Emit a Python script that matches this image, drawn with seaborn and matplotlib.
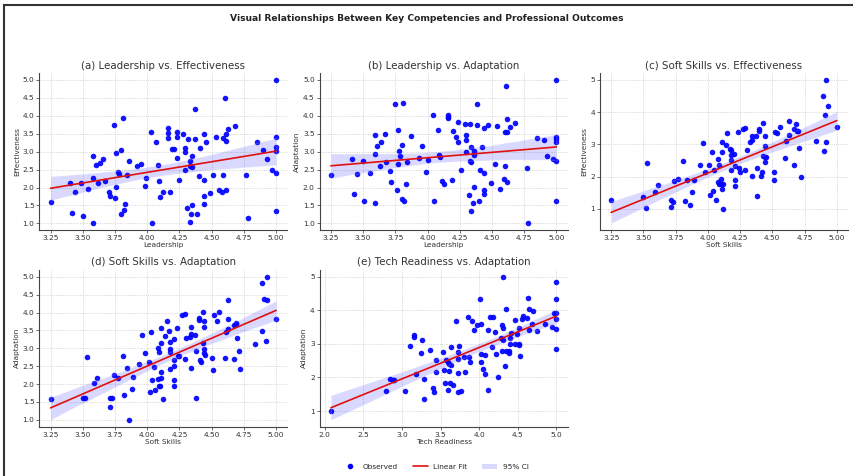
import numpy as np
import pandas as pd
import matplotlib
matplotlib.use("Agg")
import matplotlib.pyplot as plt
from matplotlib.lines import Line2D
from matplotlib.patches import Patch, Rectangle
import seaborn as sns

# ---------------- data ----------------
lead_a = [3.25, 3.40, 3.42, 3.44, 3.49, 3.50, 3.54, 3.58, 3.58, 3.58, 3.60, 3.62, 3.63, 3.66, 3.67,
          3.70, 3.71, 3.74, 3.75, 3.76, 3.76, 3.77, 3.78, 3.80, 3.80, 3.81, 3.82, 3.83, 3.84, 3.86,
          3.92, 3.95, 3.98, 3.99, 4.03, 4.04, 4.07, 4.08, 4.09, 4.10, 4.12, 4.16, 4.16, 4.16, 4.18,
          4.19, 4.21, 4.23, 4.23, 4.23, 4.25, 4.28, 4.29, 4.29, 4.29, 4.31, 4.32, 4.33, 4.33, 4.33,
          4.34, 4.35, 4.35, 4.35, 4.37, 4.37, 4.39, 4.40, 4.41, 4.44, 4.44, 4.44, 4.44, 4.46, 4.49,
          4.51, 4.53, 4.56, 4.58, 4.59, 4.59, 4.60, 4.61, 4.61, 4.61, 4.63, 4.68, 4.77, 4.78, 4.85,
          4.90, 4.93, 4.97, 5.00, 5.00, 5.00, 5.00, 5.00, 5.00]
eff_a = [1.59, 2.12, 1.30, 1.89, 2.12, 1.22, 1.97, 2.87, 2.27, 1.01, 2.62, 2.12, 2.69, 2.79, 2.19,
         1.89, 1.77, 3.75, 1.70, 2.96, 2.02, 2.44, 2.37, 3.06, 1.25, 3.93, 1.38, 1.55, 2.35, 2.75,
         2.59, 2.66, 2.03, 2.26, 3.56, 1.02, 3.28, 2.63, 2.17, 1.74, 1.88, 3.67, 3.51, 3.38, 1.88,
         3.07, 3.07, 3.54, 3.42, 2.82, 2.21, 3.48, 3.09, 2.99, 2.50, 1.42, 3.36, 1.04, 2.74, 2.59,
         1.26, 2.89, 1.51, 2.56, 4.20, 3.36, 1.27, 2.31, 3.09, 3.49, 2.20, 1.77, 1.53, 3.26, 1.84,
         2.35, 3.40, 1.93, 1.88, 3.37, 2.36, 4.50, 1.93, 3.48, 3.29, 3.62, 3.72, 2.36, 1.14, 3.26,
         3.05, 2.81, 2.48, 5.00, 3.42, 3.12, 3.03, 2.42, 1.35]

lead_b = [3.25, 3.41, 3.43, 3.45, 3.50, 3.51, 3.55, 3.59, 3.59, 3.59, 3.61, 3.63, 3.64, 3.67, 3.68,
          3.71, 3.72, 3.75, 3.76, 3.77, 3.77, 3.78, 3.79, 3.80, 3.80, 3.81, 3.82, 3.83, 3.84, 3.87,
          3.93, 3.96, 3.99, 4.00, 4.04, 4.05, 4.08, 4.09, 4.10, 4.11, 4.13, 4.16, 4.16, 4.16, 4.19,
          4.20, 4.22, 4.24, 4.24, 4.26, 4.29, 4.30, 4.30, 4.30, 4.32, 4.33, 4.33, 4.34, 4.34, 4.34,
          4.35, 4.36, 4.36, 4.36, 4.38, 4.38, 4.40, 4.41, 4.42, 4.44, 4.44, 4.44, 4.44, 4.47, 4.49,
          4.52, 4.54, 4.56, 4.59, 4.60, 4.60, 4.61, 4.62, 4.62, 4.62, 4.64, 4.68, 4.77, 4.78, 4.85,
          4.90, 4.93, 4.97, 5.00, 5.00, 5.00, 5.00, 5.00, 5.00]
adapt_b = [2.35, 2.79, 1.83, 2.37, 2.74, 1.62, 2.42, 3.46, 2.93, 1.58, 3.17, 2.61, 3.27, 3.49, 2.70,
           2.45, 2.16, 4.33, 1.93, 3.60, 2.65, 3.01, 2.89, 3.20, 1.67, 4.37, 1.62, 2.10, 2.72, 3.44,
           2.82, 3.17, 2.44, 2.78, 4.02, 1.62, 3.61, 2.92, 2.86, 2.17, 2.10, 4.02, 3.96, 3.93, 2.20,
           3.58, 3.40, 3.82, 3.27, 2.50, 3.77, 3.46, 3.34, 3.00, 1.79, 3.77, 2.75, 3.14, 1.36, 2.72,
           1.58, 3.02, 2.91, 2.02, 4.34, 3.75, 1.62, 2.50, 3.13, 3.67, 2.42, 1.94, 1.83, 3.75, 2.13,
           2.67, 3.72, 1.96, 2.24, 2.61, 3.54, 4.82, 3.54, 3.92, 2.16, 3.68, 3.80, 2.55, 1.01, 3.38,
           3.32, 2.89, 2.79, 5.00, 3.42, 3.35, 3.28, 2.75, 1.62]

soft_c = [3.25, 3.50, 3.52, 3.53, 3.59, 3.61, 3.71, 3.71, 3.73, 3.74, 3.77, 3.81, 3.82, 3.84, 3.86,
          3.88, 3.89, 3.94, 3.96, 3.98, 4.01, 4.02, 4.03, 4.04, 4.05, 4.06, 4.08, 4.08, 4.09, 4.09,
          4.10, 4.10, 4.11, 4.11, 4.11, 4.12, 4.12, 4.14, 4.15, 4.17, 4.18, 4.18, 4.18, 4.18, 4.20,
          4.21, 4.21, 4.21, 4.23, 4.24, 4.25, 4.27, 4.29, 4.29, 4.30, 4.33, 4.34, 4.34, 4.34, 4.37,
          4.38, 4.38, 4.40, 4.40, 4.41, 4.42, 4.43, 4.43, 4.44, 4.44, 4.44, 4.44, 4.45, 4.51, 4.51,
          4.52, 4.54, 4.56, 4.60, 4.61, 4.63, 4.63, 4.67, 4.67, 4.68, 4.69, 4.70, 4.71, 4.72, 4.84,
          4.89, 4.90, 4.91, 4.92, 4.92, 4.93, 5.00]
eff_c = [1.26, 1.36, 1.02, 2.42, 1.51, 1.74, 1.05, 1.27, 1.22, 1.87, 1.93, 2.47, 1.25, 1.89, 1.13,
         1.53, 1.89, 2.36, 3.03, 2.15, 2.36, 1.42, 2.75, 1.54, 2.21, 1.28, 2.56, 1.84, 2.37, 1.78,
         1.91, 1.78, 3.08, 2.75, 1.60, 1.00, 1.76, 2.98, 3.36, 2.86, 2.82, 2.66, 2.50, 2.20, 2.70,
         2.34, 1.89, 1.70, 3.38, 2.26, 2.13, 3.49, 3.52, 2.19, 2.83, 3.08, 3.25, 2.02, 3.14, 3.26,
         2.27, 1.39, 3.47, 3.42, 2.02, 2.13, 3.67, 2.64, 2.95, 3.25, 2.62, 2.46, 2.60, 2.13, 1.90,
         3.39, 3.35, 3.55, 2.57, 3.11, 3.73, 3.30, 3.47, 2.36, 3.62, 3.43, 3.42, 2.90, 1.98, 3.09,
         4.50, 2.80, 3.92, 3.06, 5.00, 4.20, 3.54]

soft_d = [3.25, 3.50, 3.52, 3.53, 3.59, 3.61, 3.71, 3.71, 3.73, 3.74, 3.77, 3.81, 3.82, 3.84, 3.86,
          3.88, 3.89, 3.94, 3.96, 3.98, 4.01, 4.02, 4.03, 4.04, 4.05, 4.06, 4.08, 4.08, 4.09, 4.09,
          4.10, 4.11, 4.11, 4.11, 4.11, 4.12, 4.14, 4.15, 4.17, 4.18, 4.18, 4.18, 4.18, 4.21, 4.21,
          4.21, 4.21, 4.21, 4.23, 4.24, 4.25, 4.27, 4.29, 4.29, 4.30, 4.33, 4.34, 4.34, 4.34, 4.37,
          4.38, 4.38, 4.40, 4.40, 4.41, 4.42, 4.43, 4.43, 4.44, 4.44, 4.44, 4.44, 4.45, 4.50, 4.51,
          4.52, 4.54, 4.56, 4.60, 4.61, 4.63, 4.63, 4.63, 4.67, 4.67, 4.69, 4.70, 4.69, 4.71, 4.72,
          4.84, 4.89, 4.89, 4.91, 4.92, 4.93, 4.93, 5.00]
adapt_d = [1.58, 1.62, 1.62, 2.75, 2.02, 2.17, 1.36, 1.62, 1.62, 2.24, 2.16, 2.79, 1.68, 2.44, 1.00,
           1.85, 2.20, 2.55, 3.37, 2.86, 2.61, 1.79, 3.45, 2.11, 2.49, 1.83, 3.02, 2.14, 2.89, 1.95,
           1.95, 2.16, 3.57, 3.15, 2.35, 1.58, 3.34, 3.76, 3.47, 2.99, 2.89, 2.43, 3.17, 3.27, 2.68,
           2.50, 2.11, 1.94, 3.56, 2.79, 2.79, 3.92, 3.97, 2.71, 3.28, 3.31, 3.40, 2.45, 3.60, 3.37,
           2.92, 1.61, 3.84, 3.78, 2.67, 2.61, 4.02, 3.15, 3.76, 3.60, 2.99, 2.88, 2.82, 2.73, 2.38,
           3.93, 3.76, 4.02, 2.74, 3.45, 4.34, 3.81, 3.55, 3.65, 2.71, 3.69, 3.28, 3.72, 2.92, 2.42,
           3.13, 4.83, 3.49, 4.38, 3.20, 5.00, 4.34, 3.81]

tech_e = [2.08, 2.79, 2.84, 2.88, 2.90, 3.04, 3.10, 3.15, 3.15, 3.18, 3.25, 3.26, 3.28, 3.29, 3.36,
          3.40, 3.42, 3.44, 3.44, 3.53, 3.55, 3.56, 3.57, 3.59, 3.59, 3.61, 3.61, 3.62, 3.63, 3.64,
          3.66, 3.70, 3.72, 3.72, 3.72, 3.72, 3.74, 3.76, 3.80, 3.81, 3.85, 3.87, 3.88, 3.91, 3.93,
          3.97, 4.01, 4.03, 4.03, 4.03, 4.05, 4.07, 4.08, 4.11, 4.12, 4.14, 4.18, 4.17, 4.21, 4.22,
          4.24, 4.28, 4.29, 4.30, 4.31, 4.31, 4.31, 4.34, 4.35, 4.35, 4.38, 4.39, 4.40, 4.40, 4.41,
          4.46, 4.47, 4.49, 4.51, 4.51, 4.51, 4.53, 4.55, 4.57, 4.62, 4.63, 4.65, 4.65, 4.68, 4.70,
          4.75, 4.85, 4.94, 4.97, 5.00, 5.00, 5.00, 5.00, 5.00, 5.00]
adapt_e = [1.00, 1.61, 1.96, 1.93, 1.93, 1.61, 2.93, 3.27, 3.20, 2.11, 2.73, 3.13, 1.96, 1.35, 2.82,
           1.68, 1.58, 2.51, 2.17, 2.75, 2.21, 1.84, 2.51, 2.45, 1.62, 2.41, 2.18, 1.84, 2.38, 2.90,
           1.78, 3.68, 2.75, 2.54, 2.14, 1.58, 2.93, 1.61, 2.60, 2.17, 3.81, 2.60, 2.45, 3.67, 3.40,
           3.56, 4.35, 3.59, 2.71, 2.45, 2.25, 2.68, 2.11, 1.62, 3.41, 3.81, 3.79, 2.90, 3.34, 2.71,
           2.01, 3.17, 3.55, 2.78, 5.00, 3.46, 3.13, 2.35, 4.03, 2.78, 2.78, 2.74, 3.01, 3.19, 3.32,
           3.72, 3.01, 3.28, 2.96, 3.46, 3.01, 2.64, 3.75, 3.84, 3.76, 4.38, 3.41, 4.03, 3.59, 3.99,
           3.39, 3.60, 3.50, 3.92, 4.84, 4.35, 3.92, 3.75, 3.44, 2.86]

panels = [
    ("(a) Leadership vs. Effectiveness", "Leadership", "Effectiveness", lead_a, eff_a),
    ("(b) Leadership vs. Adaptation", "Leadership", "Adaptation", lead_b, adapt_b),
    ("(c) Soft Skills vs. Effectiveness", "Soft Skills", "Effectiveness", soft_c, eff_c),
    ("(d) Soft Skills vs. Adaptation", "Soft Skills", "Adaptation", soft_d, adapt_d),
    ("(e) Tech Readiness vs. Adaptation", "Tech Readiness", "Adaptation", tech_e, adapt_e),
]

# ---------------- style ----------------
sns.set_theme(style="white")
plt.rcParams['font.family'] = ['DejaVu Sans']

fig, axes = plt.subplots(2, 3, figsize=(8.54, 4.76), dpi=100)
fig.subplots_adjust(left=0.046, right=0.993, top=0.847, bottom=0.103,
                    wspace=0.13, hspace=0.25)
axes = axes.ravel()

for ax, (title, xl, yl, xs, ys) in zip(axes, panels):
    df = pd.DataFrame({xl: xs, yl: ys})
    sns.regplot(data=df, x=xl, y=yl, ax=ax, color="blue", ci=95, seed=0,
                scatter_kws=dict(s=16, linewidths=0, alpha=0.92),
                line_kws=dict(linewidth=1.2))
    ax.lines[-1].set_color("#e01010")
    ax.set_title(title, fontsize=7.4, pad=3, color="#333333")
    ax.set_xlabel(xl, fontsize=5.3, labelpad=1, color="#333333")
    ax.set_ylabel(yl, fontsize=5.3, labelpad=2, color="#333333")
    ax.tick_params(labelsize=5.3, length=2, width=0.5, pad=1.5, colors="#333333",
                   left=True, bottom=True)
    ax.grid(True, linestyle=":", linewidth=0.5, color="#bbbbbb")
    for s in ["top", "right"]:
        ax.spines[s].set_visible(False)
    for s in ["left", "bottom"]:
        ax.spines[s].set_color("#444444")
        ax.spines[s].set_linewidth(0.8)

axes[-1].remove()

fig.suptitle("Visual Relationships Between Key Competencies and Professional Outcomes",
             fontsize=6.6, fontweight="bold", y=0.962, va="center", color="#222222")

handles = [
    Line2D([0], [0], marker="o", linestyle="none", color="blue", markersize=3),
    Line2D([0], [0], color="#e01010", linewidth=1.2),
    Patch(facecolor="blue", alpha=0.15, edgecolor="none"),
]
fig.legend(handles, ["Observed", "Linear Fit", "95% CI"], loc="center",
           bbox_to_anchor=(0.51, 0.019), ncol=3, frameon=False, fontsize=5.3,
           handlelength=2.0, columnspacing=2.0)

# outer frame (top-left edges visible in the reference)
fig.patches.append(Rectangle((0.005, -0.05), 1.2, 1.039, transform=fig.transFigure,
                             fill=False, edgecolor="#333333", linewidth=1.5))

fig.savefig("out.png", dpi=100)
